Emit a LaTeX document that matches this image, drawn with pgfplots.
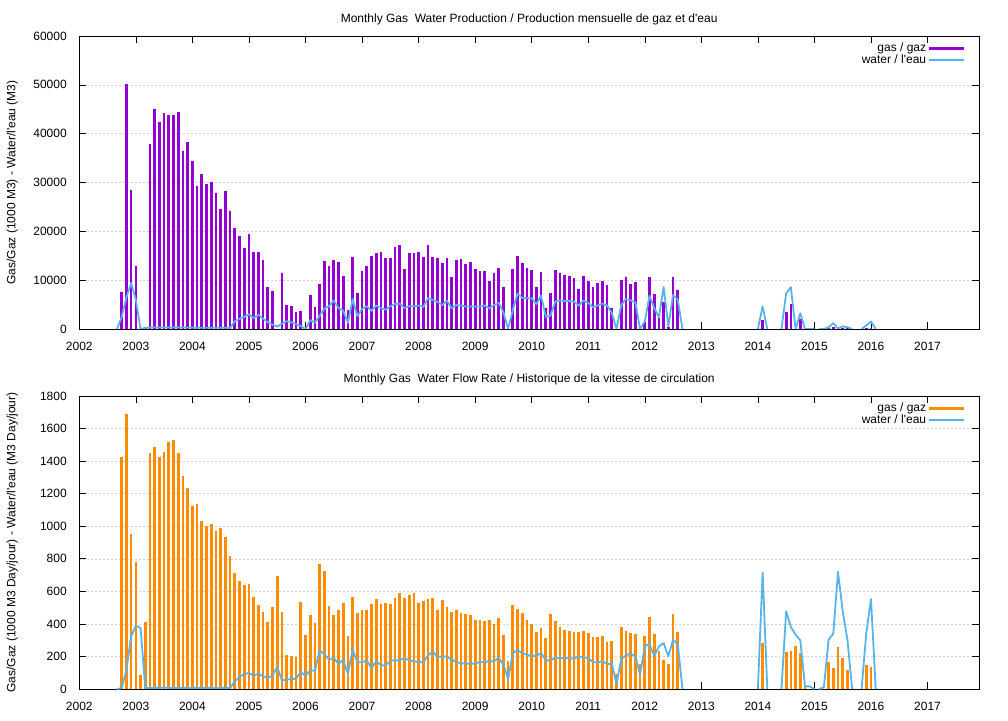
\documentclass[border=0pt]{standalone}
\usepackage{fontspec}
\setmainfont{Liberation Sans}[Ligatures=TeXOff]
\usepackage{pgfplots}
\usepackage{pgfplotstable}
\pgfplotsset{compat=1.18}
\definecolor{gasv}{HTML}{9400D3}
\definecolor{gaso}{HTML}{FF8C00}
\definecolor{wat}{HTML}{56B4E9}

% top panel: gas volume (1000 m3)
\pgfplotstableread{
y m v
2002 10 7500
2002 11 50100
2002 12 28400
2003 1 13000
2003 3 300
2003 4 37900
2003 5 45000
2003 6 42300
2003 7 44300
2003 8 43900
2003 9 43800
2003 10 44400
2003 11 36500
2003 12 38200
2004 1 34300
2004 2 29200
2004 3 31700
2004 4 29600
2004 5 30000
2004 6 27900
2004 7 24500
2004 8 28300
2004 9 24200
2004 10 20700
2004 11 19000
2004 12 16600
2005 1 19500
2005 2 15800
2005 3 15800
2005 4 14200
2005 5 8600
2005 6 7800
2005 8 11400
2005 9 4900
2005 10 4800
2005 11 3400
2005 12 3600
2006 2 7000
2006 3 4600
2006 4 9300
2006 5 14000
2006 6 12800
2006 7 14100
2006 8 13800
2006 9 10900
2006 10 3900
2006 11 14750
2006 12 7300
2007 1 11950
2007 2 12900
2007 3 14950
2007 4 15650
2007 5 15800
2007 6 14600
2007 7 14550
2007 8 16700
2007 9 17150
2007 10 12250
2007 11 15500
2007 12 15550
2008 1 15700
2008 2 14700
2008 3 17100
2008 4 14800
2008 5 14500
2008 6 13600
2008 7 14600
2008 8 10700
2008 9 14200
2008 10 14350
2008 11 13400
2008 12 13700
2009 1 12350
2009 2 11900
2009 3 11900
2009 4 9900
2009 5 11400
2009 6 12550
2009 7 8500
2009 9 12300
2009 10 15000
2009 11 13450
2009 12 12450
2010 1 12100
2010 2 8550
2010 3 11700
2010 4 4400
2010 5 7400
2010 6 12100
2010 7 11550
2010 8 11000
2010 9 10800
2010 10 10450
2010 11 8150
2010 12 10950
2011 1 9850
2011 2 8600
2011 3 9450
2011 4 9900
2011 5 9000
2011 6 4400
2011 8 9950
2011 9 10600
2011 10 9150
2011 11 9600
2012 1 1500
2012 2 10700
2012 3 7150
2012 4 2200
2012 5 5450
2012 6 500
2012 7 10650
2012 8 7900
2014 2 1900
2014 7 3400
2014 8 5200
2014 10 2100
2015 4 150
2015 5 350
2015 6 300
2015 7 200
2015 8 150
2015 12 250
2016 1 250
}\gasvol

% top panel: water volume (m3)
\pgfplotstableread{
y m v
2002 9 0
2002 10 2500
2002 11 6500
2002 12 9400
2003 1 6000
2003 2 0
2003 3 250
2003 4 300
2003 5 300
2003 6 300
2003 7 300
2003 8 300
2003 9 300
2003 10 300
2003 11 300
2003 12 300
2004 1 300
2004 2 250
2004 3 250
2004 4 250
2004 5 250
2004 6 250
2004 7 250
2004 8 250
2004 9 200
2004 10 1600
2004 11 2100
2004 12 2500
2005 1 3000
2005 2 2250
2005 3 2900
2005 4 2100
2005 5 1400
2005 6 900
2005 7 500
2005 8 1100
2005 9 1600
2005 10 1400
2005 11 1000
2005 12 600
2006 1 0
2006 2 1800
2006 3 1300
2006 4 2700
2006 5 4200
2006 6 4650
2006 7 5850
2006 8 4300
2006 9 3750
2006 10 1250
2006 11 6150
2006 12 2600
2007 1 4100
2007 2 4700
2007 3 3700
2007 4 4800
2007 5 4300
2007 6 3950
2007 7 4650
2007 8 5100
2007 9 5200
2007 10 4300
2007 11 4650
2007 12 4650
2008 1 4800
2008 2 4500
2008 3 6300
2008 4 6000
2008 5 5600
2008 6 4900
2008 7 5800
2008 8 4250
2008 9 4900
2008 10 4800
2008 11 4600
2008 12 4600
2009 1 4600
2009 2 4600
2009 3 4800
2009 4 4250
2009 5 4900
2009 6 5350
2009 7 3400
2009 8 0
2009 9 3950
2009 10 7250
2009 11 6400
2009 12 6300
2010 1 6300
2010 2 5100
2010 3 6850
2010 4 2450
2010 5 2750
2010 6 5650
2010 7 5850
2010 8 5700
2010 9 5750
2010 10 5550
2010 11 4800
2010 12 5850
2011 1 5350
2011 2 4450
2011 3 4800
2011 4 5200
2011 5 4800
2011 6 3300
2011 7 0
2011 8 4900
2011 9 6150
2011 10 5850
2011 11 5450
2011 12 0
2012 1 1550
2012 2 6850
2012 3 4300
2012 4 2400
2012 5 8600
2012 6 550
2012 7 6950
2012 8 6000
2012 9 0
2012 10 nan
2014 1 0
2014 2 4650
2014 3 0
2014 4 nan
2014 6 0
2014 7 7300
2014 8 8550
2014 9 0
2014 10 3250
2014 11 0
2014 12 0
2015 1 0
2015 1.5 nan
2015 2 0
2015 3 0
2015 4 350
2015 5 1200
2015 6 100
2015 7 550
2015 8 350
2015 9 0
2015 10 nan
2015 11 0
2015 12 700
2016 1 1550
2016 2 0
}\watvol

% bottom panel: gas rate (1000 m3/day)
\pgfplotstableread{
y m v
2002 10 1425
2002 11 1690
2002 12 952
2003 1 782
2003 2 86
2003 3 413
2003 4 1449
2003 5 1488
2003 6 1427
2003 7 1457
2003 8 1517
2003 9 1531
2003 10 1447
2003 11 1308
2003 12 1232
2004 1 1124
2004 2 1134
2004 3 1032
2004 4 1001
2004 5 1013
2004 6 968
2004 7 991
2004 8 935
2004 9 817
2004 10 710
2004 11 663
2004 12 641
2005 1 643
2005 2 563
2005 3 516
2005 4 475
2005 5 409
2005 6 506
2005 7 694
2005 8 471
2005 9 209
2005 10 203
2005 11 197
2005 12 536
2006 1 333
2006 2 457
2006 3 405
2006 4 769
2006 5 726
2006 6 510
2006 7 457
2006 8 488
2006 9 531
2006 10 324
2006 11 566
2006 12 469
2007 1 486
2007 2 488
2007 3 525
2007 4 554
2007 5 523
2007 6 527
2007 7 525
2007 8 562
2007 9 590
2007 10 562
2007 11 576
2007 12 592
2008 1 531
2008 2 541
2008 3 554
2008 4 560
2008 5 488
2008 6 547
2008 7 504
2008 8 476
2008 9 488
2008 10 469
2008 11 461
2008 12 455
2009 1 426
2009 2 426
2009 3 416
2009 4 426
2009 5 398
2009 6 439
2009 7 332
2009 8 170
2009 9 515
2009 10 494
2009 11 467
2009 12 424
2010 1 398
2010 2 349
2010 3 375
2010 4 316
2010 5 461
2010 6 418
2010 7 382
2010 8 365
2010 9 357
2010 10 351
2010 11 351
2010 12 359
2011 1 344
2011 2 320
2011 3 322
2011 4 328
2011 5 289
2011 6 295
2011 7 94
2011 8 383
2011 9 357
2011 10 344
2011 11 336
2011 12 156
2012 1 328
2012 2 443
2012 3 338
2012 4 232
2012 5 176
2012 6 156
2012 7 463
2012 8 353
2014 2 285
2014 7 228
2014 8 234
2014 9 267
2014 10 221
2014 11 12
2015 4 168
2015 5 127
2015 6 258
2015 7 193
2015 8 117
2015 12 148
2016 1 137
}\gasrate

% bottom panel: water rate (m3/day)
\pgfplotstableread{
y m v
2002 9 0
2002 10 5
2002 11 118
2002 12 323
2003 1 389
2003 2 375
2003 3 5
2003 4 6
2003 5 7
2003 6 7
2003 7 8
2003 8 7
2003 9 7
2003 10 7
2003 11 6
2003 12 6
2004 1 6
2004 2 6
2004 3 6
2004 4 6
2004 5 6
2004 6 6
2004 7 6
2004 8 6
2004 9 6
2004 10 47
2004 11 74
2004 12 92
2005 1 98
2005 2 82
2005 3 94
2005 4 78
2005 5 68
2005 6 84
2005 7 135
2005 8 53
2005 9 57
2005 10 61
2005 11 63
2005 12 106
2006 1 80
2006 2 115
2006 3 112
2006 4 238
2006 5 213
2006 6 180
2006 7 191
2006 8 154
2006 9 180
2006 10 92
2006 11 242
2006 12 164
2007 1 164
2007 2 176
2007 3 129
2007 4 170
2007 5 146
2007 6 144
2007 7 174
2007 8 176
2007 9 176
2007 10 191
2007 11 176
2007 12 170
2008 1 166
2008 2 164
2008 3 207
2008 4 230
2008 5 197
2008 6 199
2008 7 201
2008 8 180
2008 9 166
2008 10 158
2008 11 156
2008 12 156
2009 1 156
2009 2 166
2009 3 164
2009 4 172
2009 5 170
2009 6 191
2009 7 150
2009 8 62
2009 9 221
2009 10 238
2009 11 221
2009 12 211
2010 1 201
2010 2 205
2010 3 221
2010 4 176
2010 5 176
2010 6 193
2010 7 190
2010 8 191
2010 9 187
2010 10 187
2010 11 201
2010 12 195
2011 1 191
2011 2 164
2011 3 164
2011 4 170
2011 5 154
2011 6 154
2011 7 31
2011 8 184
2011 9 207
2011 10 217
2011 11 201
2011 12 88
2012 1 262
2012 2 277
2012 3 203
2012 4 262
2012 5 281
2012 6 201
2012 7 303
2012 8 273
2012 9 0
2012 10 nan
2014 1 0
2014 2 717
2014 3 0
2014 4 nan
2014 6 0
2014 7 478
2014 8 381
2014 9 334
2014 10 299
2014 11 16
2014 12 16
2015 1 0
2015 1.5 nan
2015 2 0
2015 3 10
2015 4 303
2015 5 340
2015 6 720
2015 7 478
2015 8 303
2015 9 0
2015 10 nan
2015 11 0
2015 12 344
2016 1 553
2016 2 0
}\watrate

\pgfplotsset{
  panel/.style={
    scale only axis, width=899.7pt, height=293pt,
    anchor=south west,
    xmin=2002, xmax=2017.91, ymin=0,
    xtick={2002,2003,...,2017},
    /pgf/number format/1000 sep={},
    /pgf/number format/assume math mode=true,
    scaled y ticks=false, scaled x ticks=false,
    tick align=inside, major tick length=7pt,
    tick style={black, line width=0.6pt},
    axis line style={line width=0.8pt},
    ymajorgrids,
    major grid style={gray!35, dash pattern=on 2pt off 2pt, line width=0.45pt},
    xticklabel style={yshift=-10pt},
    yticklabel style={xshift=-9pt},
    title style={at={(0.5,1)}, anchor=center, yshift=11pt},
    ylabel style={at={(axis description cs:-0.0745,0.5)}, anchor=center},
    legend plot pos=right,
    legend cell align=right,
    legend style={at={(1,1)}, anchor=north east, xshift=-10pt, yshift=-3pt,
      draw=none, fill=none, row sep=-2.5pt},
    unbounded coords=jump,
  },
  barleg/.style={legend image code/.code={\draw[##1] (0pt,0pt) -- (35pt,0pt);}},
}

\begin{document}
\begin{tikzpicture}[font=\fontsize{12}{14}\selectfont]
\useasboundingbox (0,0) rectangle (1008pt,720pt);

\begin{axis}[panel, at={(79.3pt,391pt)},
  ymax=60000, ytick={0,10000,...,60000},
  title={Monthly Gas\ \ Water Production / Production mensuelle de gaz et d'eau},
  ylabel={Gas/Gaz (1000 M3) - Water/l'eau (M3)}]
\addplot[ycomb, gasv, line width=2.7pt, barleg]
  table[x expr=\thisrow{y}+(\thisrow{m}-1)/12, y=v]{\gasvol};
\addlegendentry{gas / gaz}
\addplot[wat, line width=1.8pt, line join=round, barleg]
  table[x expr=\thisrow{y}+(\thisrow{m}-1)/12, y=v]{\watvol};
\addlegendentry{water / l'eau}
\end{axis}

\begin{axis}[panel, at={(79.3pt,31pt)},
  ymax=1800, ytick={0,200,...,1800},
  title={Monthly Gas\ \ Water Flow Rate / Historique de la vitesse de circulation},
  ylabel={Gas/Gaz (1000 M3 Day/jour) - Water/l'eau (M3 Day/jour)}]
\addplot[ycomb, gaso, line width=2.7pt, barleg]
  table[x expr=\thisrow{y}+(\thisrow{m}-1)/12, y=v]{\gasrate};
\addlegendentry{gas / gaz}
\addplot[wat, line width=1.8pt, line join=round, barleg]
  table[x expr=\thisrow{y}+(\thisrow{m}-1)/12, y=v]{\watrate};
\addlegendentry{water / l'eau}
\end{axis}
\end{tikzpicture}
\end{document}
